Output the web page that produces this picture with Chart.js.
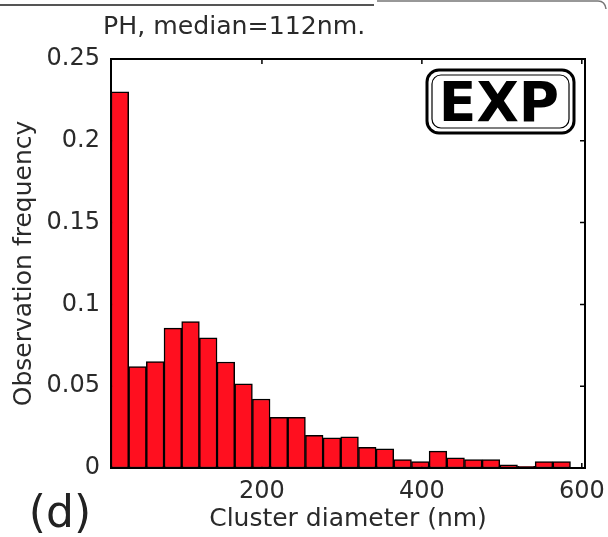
<!DOCTYPE html>
<html>
<head>
<meta charset="utf-8">
<script src="https://cdn.jsdelivr.net/npm/chart.js@4"></script>
<style>
  body { margin: 0; background: #fff; }
  canvas { display: block; }
</style>
</head>
<body>
<canvas id="histChart" width="608" height="537"></canvas>
<script>
const binCenters = [22.3, 44.4, 66.5, 88.6, 110.7, 132.8, 154.9, 177.0, 199.1, 221.2,
  243.3, 265.4, 287.5, 309.6, 331.7, 353.8, 375.9, 398.0, 420.1, 442.2,
  464.3, 486.4, 508.5, 530.6, 552.7, 574.8];
const frequency = [0.230, 0.062, 0.065, 0.0855, 0.0895, 0.0795, 0.0648, 0.0514, 0.0422, 0.031,
  0.031, 0.020, 0.0185, 0.019, 0.0127, 0.0117, 0.0052, 0.004, 0.0103, 0.0062,
  0.0052, 0.0052, 0.002, 0.001, 0.004, 0.004];

const xTickValues = [200, 400, 600];
const xTickLabels = ['200', '400', '600'];
const yTickValues = [0, 0.05, 0.1, 0.15, 0.2, 0.25];
const yTickLabels = ['0', '0.05', '0.1', '0.15', '0.2', '0.25'];

const FONT = '"DejaVu Sans", sans-serif';
const TEXT = '#2a2a2a';

function roundRect(ctx, x, y, w, h, r) {
  ctx.beginPath();
  ctx.moveTo(x + r, y);
  ctx.arcTo(x + w, y, x + w, y + h, r);
  ctx.arcTo(x + w, y + h, x, y + h, r);
  ctx.arcTo(x, y + h, x, y, r);
  ctx.arcTo(x, y, x + w, y, r);
  ctx.closePath();
}

// matlab-ish axes box, inward ticks, and the extra labels
const frame = {
  id: 'frame',
  beforeDatasetsDraw(chart) {
    const {ctx, chartArea: a, scales} = chart;
    ctx.save();
    ctx.strokeStyle = '#000';
    ctx.lineWidth = 1.5;
    ctx.beginPath();
    xTickValues.forEach(v => {
      const px = scales.x.getPixelForValue(v);
      ctx.moveTo(px, a.top); ctx.lineTo(px, a.top + 5);
      ctx.moveTo(px, a.bottom); ctx.lineTo(px, a.bottom - 5);
    });
    yTickValues.forEach(v => {
      const py = scales.y.getPixelForValue(v);
      ctx.moveTo(a.left, py); ctx.lineTo(a.left + 5, py);
      ctx.moveTo(a.right, py); ctx.lineTo(a.right - 5, py);
    });
    ctx.stroke();
    ctx.restore();
  },
  afterDatasetsDraw(chart) {
    const {ctx, chartArea: a} = chart;
    ctx.save();
    ctx.strokeStyle = '#000';
    ctx.lineWidth = 2;
    ctx.strokeRect(a.left, a.top, a.right - a.left, a.bottom - a.top);
    ctx.restore();
  },
  afterDraw(chart) {
    const ctx = chart.ctx;
    ctx.save();
    // bits of the surrounding figure at the very top
    ctx.strokeStyle = '#555';
    ctx.lineWidth = 2;
    ctx.beginPath();
    ctx.moveTo(0, 5); ctx.lineTo(374, 5);
    ctx.stroke();
    ctx.strokeStyle = '#777';
    ctx.lineWidth = 1.5;
    ctx.beginPath();
    ctx.moveTo(377, 1); ctx.lineTo(598, 1);
    ctx.quadraticCurveTo(605, 1, 606, 9);
    ctx.stroke();

    // title: fit it to the width it has in the figure
    ctx.fillStyle = TEXT;
    ctx.textAlign = 'left';
    ctx.textBaseline = 'alphabetic';
    const title = 'PH, median=112nm.';
    ctx.font = '24px ' + FONT;
    const size = Math.min(26, 24 * 262 / ctx.measureText(title).width);
    ctx.font = size.toFixed(1) + 'px ' + FONT;
    ctx.fillText(title, 103, 34);

    ctx.textAlign = 'center';
    ctx.fillStyle = '#222';
    ctx.font = '44px ' + FONT;
    ctx.fillText('(d)', 60, 527);

    // EXP badge
    ctx.strokeStyle = '#000';
    ctx.lineWidth = 3;
    roundRect(ctx, 427, 70, 147, 63, 12);
    ctx.stroke();
    ctx.lineWidth = 1.2;
    roundRect(ctx, 432, 75, 137, 53, 9);
    ctx.stroke();
    ctx.fillStyle = '#000';
    ctx.font = 'bold 55px ' + FONT;
    ctx.fillText('EXP', 499, 121);
    ctx.restore();
  }
};

const ctx = document.getElementById('histChart');

new Chart(ctx, {
  type: 'bar',
  data: {
    datasets: [{
      data: binCenters.map((c, i) => ({x: c, y: frequency[i]})),
      backgroundColor: '#ff0f1f',
      borderColor: '#000',
      borderWidth: 1.5,
      borderSkipped: false,
      barPercentage: 1,
      categoryPercentage: 1
    }]
  },
  options: {
    responsive: false,
    animation: false,
    layout: { padding: { top: 59, right: 23, bottom: 0, left: 0 } },
    plugins: {
      legend: { display: false },
      tooltip: { enabled: false },
      title: { display: false }
    },
    scales: {
      x: {
        type: 'linear',
        min: 11.25,
        max: 604,
        offset: false,
        grid: { display: false, drawTicks: false },
        border: { display: false },
        afterBuildTicks: s => { s.ticks = xTickValues.map(v => ({value: v})); },
        afterFit: s => { s.height = 69; s.paddingLeft = 0; s.paddingRight = 0; },
        ticks: {
          autoSkip: false,
          maxRotation: 0,
          padding: 9,
          color: TEXT,
          font: { family: FONT, size: 24 },
          callback: (v, i) => xTickLabels[i]
        },
        title: {
          display: true,
          text: 'Cluster diameter (nm)',
          color: TEXT,
          font: { family: FONT, size: 25 },
          padding: { top: 0, bottom: 3 }
        }
      },
      y: {
        min: 0,
        max: 0.25,
        grid: { display: false, drawTicks: false },
        border: { display: false },
        afterBuildTicks: s => { s.ticks = yTickValues.map(v => ({value: v})); },
        afterFit: s => { s.width = 111; s.paddingTop = 0; s.paddingBottom = 0; },
        ticks: {
          padding: 11,
          color: TEXT,
          font: { family: FONT, size: 24 },
          callback: (v, i) => yTickLabels[i]
        },
        title: {
          display: true,
          text: 'Observation frequency',
          color: TEXT,
          font: { family: FONT, size: 25 },
          padding: { top: 9, bottom: 0 }
        }
      }
    }
  },
  plugins: [frame]
});
</script>
</body>
</html>
